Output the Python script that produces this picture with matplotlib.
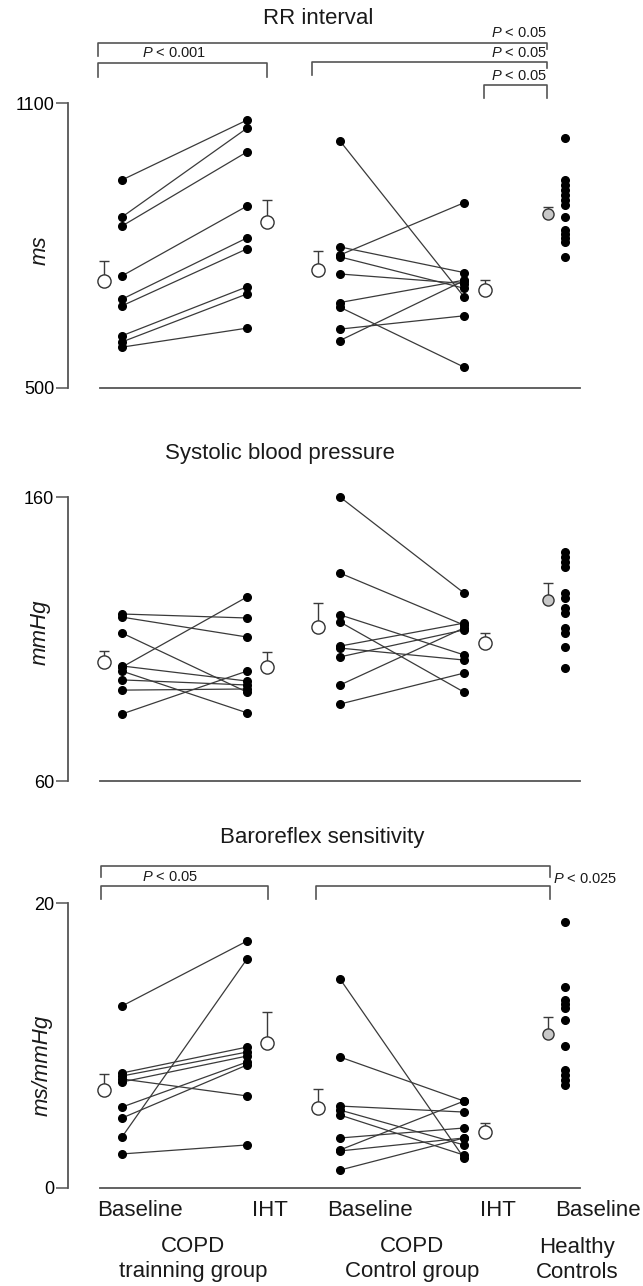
"""
Paired dot plots: RR interval, systolic BP and baroreflex sensitivity
for COPD training / control groups and healthy controls.
"""
import numpy as np
import matplotlib
matplotlib.use("Agg")
import matplotlib.pyplot as plt
from matplotlib import font_manager

W, H = 643, 1286

# ---- RR interval (ms) ----
rr_train_base = [938, 860, 841, 736, 687, 673, 610, 597, 586]
rr_train_iht = [1064, 1047, 997, 883, 816, 793, 713, 698, 626]
rr_ctrl_base = [1020, 797, 780, 776, 740, 680, 670, 624, 600]
rr_ctrl_iht = [692, 743, 890, 710, 720, 727, 544, 652, 726]
rr_healthy = [1026, 938, 927, 917, 906, 896, 885, 860, 833, 824, 816, 807, 776]
rr_means = [725, 850, 748, 706, 866]   # train base, train IHT, ctrl base, ctrl IHT, healthy
rr_sem = [42, 46, 41, 21, 15]

# ---- systolic blood pressure (mmHg) ----
sbp_train_base = [118.8, 117.7, 112.1, 100.1, 100.5, 98.7, 95.6, 92.0, 83.6]
sbp_train_iht = [117.4, 110.7, 91.3, 124.8, 95.2, 84.0, 93.8, 92.4, 98.7]
sbp_ctrl_base = [160.0, 133.2, 118.5, 116.0, 107.5, 106.8, 103.7, 93.8, 87.1]
sbp_ctrl_iht = [126.2, 114.9, 104.4, 91.3, 115.6, 102.6, 113.2, 113.9, 98.0]
sbp_healthy = [140.6, 138.9, 137.1, 135.4, 126.2, 124.4, 120.9, 119.2, 113.9, 112.1, 107.2, 99.8]
sbp_means = [101.9, 100.1, 114.2, 108.6, 123.7]
sbp_sem = [3.9, 5.3, 8.5, 3.5, 6.0]

# ---- baroreflex sensitivity (ms/mmHg) ----
brs_train_base = [12.77, 3.58, 8.07, 7.86, 7.65, 7.44, 5.68, 4.91, 2.39]
brs_train_iht = [17.33, 16.07, 9.89, 9.54, 6.46, 9.26, 8.84, 8.63, 3.02]
brs_ctrl_base = [14.67, 9.19, 5.75, 5.47, 5.12, 3.51, 2.67, 2.60, 1.26]
brs_ctrl_iht = [2.10, 6.10, 5.33, 3.02, 2.31, 4.21, 6.10, 3.51, 3.51]
brs_healthy = [18.67, 14.1, 13.2, 12.9, 12.6, 11.8, 10.0, 8.3, 7.9, 7.6, 7.2]
brs_means = [6.88, 10.18, 5.61, 3.93, 10.8]
brs_sem = [1.12, 2.17, 1.34, 0.63, 1.2]

x_labels = ["Baseline", "IHT", "Baseline", "IHT", "Baseline"]
group_labels = [("COPD", "trainning group"), ("COPD", "Control group"), ("Healthy", "Controls")]

# layout (pixels)
AX_LEFT = 68
DOT_X = [122, 247, 340, 464, 565]
MEAN_X = [104, 267, 318, 485, 548]
LABEL_X = [140, 270, 370, 498, 598]
GROUP_X = [193, 412, 577]

names = {f.name for f in font_manager.fontManager.ttflist}
FONT = "Liberation Sans" if "Liberation Sans" in names else "DejaVu Sans"
plt.rcParams["font.family"] = [FONT, "DejaVu Sans"]
plt.rcParams["mathtext.fontset"] = "custom"
plt.rcParams["mathtext.rm"] = FONT
plt.rcParams["mathtext.it"] = FONT + ":italic"

INK = "#1a1a1a"
AXC = "#555555"
LINEC = "#3a3a3a"

fig = plt.figure(figsize=(W / 100, H / 100), dpi=100)
ov = fig.add_axes([0, 0, 1, 1])
ov.set_xlim(0, W)
ov.set_ylim(H, 0)
ov.axis("off")


def panel(top, bottom, lo, hi, ticklabels, base_t, iht_t, base_c, iht_c, healthy, means, sem):
    ax = fig.add_axes([AX_LEFT / W, 1 - bottom / H, (W - AX_LEFT) / W, (bottom - top) / H])
    ax.patch.set_alpha(0)
    ax.set_xlim(AX_LEFT, W)
    ax.set_ylim(lo, hi)
    for s in ["top", "right", "bottom"]:
        ax.spines[s].set_visible(False)
    ax.spines["left"].set_bounds(lo, hi)
    ax.spines["left"].set_color(AXC)
    ax.spines["left"].set_linewidth(1.3)
    ax.set_xticks([])
    ax.set_yticks([lo, hi])
    ax.set_yticklabels(ticklabels)
    ax.tick_params(axis="y", length=9, width=1.1, color=AXC, labelsize=13, pad=1)
    ax.plot([100, 580], [lo, lo], color=AXC, lw=1.3, clip_on=False)

    for b_vals, i_vals, xb, xi in [(base_t, iht_t, DOT_X[0], DOT_X[1]),
                                   (base_c, iht_c, DOT_X[2], DOT_X[3])]:
        for b, i in zip(b_vals, i_vals):
            ax.plot([xb, xi], [b, i], color=LINEC, lw=0.9, zorder=2, clip_on=False)
        ax.plot(np.full(len(b_vals), xb), b_vals, "o", ms=5.5, color="black", zorder=3, clip_on=False)
        ax.plot(np.full(len(i_vals), xi), i_vals, "o", ms=5.5, color="black", zorder=3, clip_on=False)
    ax.plot(np.full(len(healthy), DOT_X[4]), healthy, "o", ms=5.5, color="black", zorder=3, clip_on=False)

    for k, (mx, m, e) in enumerate(zip(MEAN_X, means, sem)):
        ax.errorbar(mx, m, yerr=[[0], [e]], fmt="none", ecolor=LINEC, elinewidth=1,
                    capsize=3.5, capthick=1, zorder=2, clip_on=False)
        fc = "#c8c8c8" if k == 4 else "white"
        ms = 8 if k == 4 else 9.5
        ax.plot(mx, m, "o", ms=ms, mfc=fc, mec="#333333", mew=1, zorder=4, clip_on=False)
    return ax


panel(103, 388, 500, 1100, ["500", "1100"], rr_train_base, rr_train_iht,
      rr_ctrl_base, rr_ctrl_iht, rr_healthy, rr_means, rr_sem)
panel(497, 781, 60, 160, ["60", "160"], sbp_train_base, sbp_train_iht,
      sbp_ctrl_base, sbp_ctrl_iht, sbp_healthy, sbp_means, sbp_sem)
panel(903, 1188, 0, 20, ["0", "20"], brs_train_base, brs_train_iht,
      brs_ctrl_base, brs_ctrl_iht, brs_healthy, brs_means, brs_sem)

# titles and y labels
ov.text(318, 18, "RR interval", fontsize=16, ha="center", va="center", color=INK)
ov.text(280, 453, "Systolic blood pressure", fontsize=16, ha="center", va="center", color=INK)
ov.text(322, 837, "Baroreflex sensitivity", fontsize=16, ha="center", va="center", color=INK)
ov.text(40, 250, "ms", fontsize=16, style="italic", rotation=90, ha="center", va="center", color=INK)
ov.text(40, 632, "mmHg", fontsize=16, style="italic", rotation=90, ha="center", va="center", color=INK)
ov.text(42, 1065, "ms/mmHg", fontsize=16, style="italic", rotation=90, ha="center", va="center", color=INK)


def bracket(x0, x1, y, d0, d1):
    ov.plot([x0, x0, x1, x1], [d0, y, y, d1], color=AXC, lw=1.2)


def ptext(x, y, s, ha):
    ov.text(x, y, r"$\mathit{P}$ < " + s, fontsize=10.5, ha=ha, va="center", color=INK)


# RR brackets
bracket(98, 547, 43, 56, 49)
ptext(547, 33, "0.05", "right")
bracket(98, 267, 63, 77, 77)
ptext(174, 53, "0.001", "center")
bracket(312, 547, 62, 75, 68)
ptext(547, 53, "0.05", "right")
bracket(484, 547, 85, 98, 98)
ptext(547, 76, "0.05", "right")

# BRS brackets
bracket(101, 550, 866, 877, 877)
ptext(170, 877, "0.05", "center")
bracket(101, 268, 886, 899, 899)
bracket(316, 550, 886, 899, 899)
ptext(553, 879, "0.025", "left")

# category labels
for x, s in zip(LABEL_X, x_labels):
    ov.text(x, 1211, s, fontsize=16, ha="center", va="center", color=INK)
for x, (a, b) in zip(GROUP_X, group_labels):
    ov.text(x, 1247, a, fontsize=16, ha="center", va="center", color=INK)
    ov.text(x, 1272, b, fontsize=16, ha="center", va="center", color=INK)

fig.savefig("out.png", dpi=100)
